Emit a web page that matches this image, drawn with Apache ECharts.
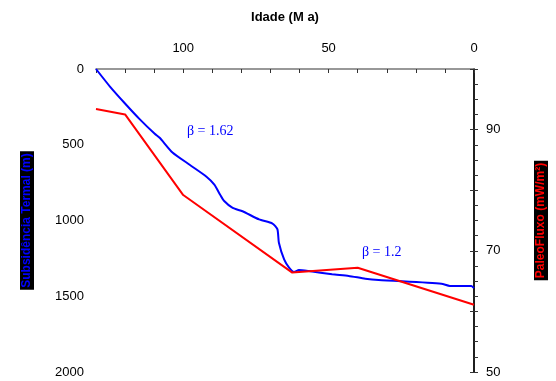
<!DOCTYPE html>
<html lang="pt">
<head>
    <meta charset="UTF-8">
    <title>Subsidência Termal</title>
    <script src="https://cdn.jsdelivr.net/npm/echarts@6/dist/echarts.min.js"></script>
    <style>
        html, body { margin: 0; padding: 0; background: #fff; }
    </style>
</head>
<body>
    <div id="main" style="width:556px;height:381px;"></div>
<script type="text/javascript">
    // subsidência termal (idade em Ma, profundidade em m)
    var subsAge   = [130, 125.2, 120.1, 115, 109.8, 108.1, 103.7, 97.8, 92.1, 89.3, 87.3, 86, 83, 79.6, 73.9, 69.3, 67.6, 67.1, 65.3, 63.6, 61.9, 60.2, 56.8, 48.8, 43.1, 37.4, 32.8, 11.2, 8.3, 0.9, 0];
    var subsDepth = [0, 116, 226, 331, 428, 454, 551, 632, 709, 763, 830, 870, 917, 939, 993, 1020, 1059, 1147, 1257, 1311, 1340, 1327, 1334, 1355, 1366, 1384, 1393, 1417, 1432, 1432, 1447];
    // paleofluxo (idade em Ma, mW/m2)
    var fluxAge = [130, 120, 100, 62.5, 40, 0];
    var fluxVal = [93.4, 92.5, 79.2, 66.4, 67.2, 61.1];
    // rótulos
    var ageLabels  = [0, 50, 100];
    var fluxLabels = [50, 70, 90];

    var subsData = [];
    for (var i = 0; i < subsAge.length; i++) {
        subsData.push([subsAge[i], subsDepth[i]]);
    }
    var fluxData = [];
    for (var j = 0; j < fluxAge.length; j++) {
        fluxData.push([fluxAge[j], fluxVal[j]]);
    }

    var fontFam = '"Liberation Sans", Arial, sans-serif';
    var myChart = echarts.init(document.getElementById('main'));

    var option = {
        animation: false,
        grid: { left: 96, right: 80, top: 69, bottom: 9 },
        xAxis: {
            type: 'value',
            position: 'top',
            inverse: true,
            min: 0,
            max: 130,
            interval: 10,
            name: 'Idade (M a)',
            nameLocation: 'middle',
            nameGap: 45,
            nameTextStyle: { fontFamily: fontFam, fontSize: 13, fontWeight: 'bold', color: '#000' },
            axisLine: { show: true, lineStyle: { color: '#777', width: 1.5 } },
            axisTick: { show: true, inside: true, length: 4, lineStyle: { color: '#333' } },
            axisLabel: {
                margin: 14,
                fontFamily: fontFam, fontSize: 13, color: '#000',
                formatter: function (v) { return ageLabels.indexOf(v) >= 0 ? String(v) : ''; }
            },
            splitLine: { show: false }
        },
        yAxis: [
            {
                type: 'value',
                inverse: true,
                min: 0,
                max: 2000,
                interval: 500,
                name: 'Subsidência Termal (m)',
                nameLocation: 'middle',
                nameRotate: 90,
                nameGap: 62,
                nameTextStyle: {
                    fontFamily: fontFam, fontSize: 12, fontWeight: 'bold', color: '#0000ff',
                    backgroundColor: '#000', padding: [1, 2, 1, 2]
                },
                axisLine: { show: true, lineStyle: { color: '#555', width: 1.5 } },
                axisTick: { show: true, inside: true, length: 4, lineStyle: { color: '#333' } },
                minorTick: { show: true, splitNumber: 5, length: 4, lineStyle: { color: '#333' } },
                axisLabel: {
                    margin: 12, fontFamily: fontFam, fontSize: 13, color: '#000',
                    formatter: function (v) { return String(v); }
                },
                splitLine: { show: false }
            },
            {
                type: 'value',
                position: 'right',
                min: 50,
                max: 100,
                interval: 10,
                name: 'PaleoFluxo (mW/m²)',
                nameLocation: 'middle',
                nameRotate: 90,
                nameGap: 60,
                nameTextStyle: {
                    fontFamily: fontFam, fontSize: 12, fontWeight: 'bold', color: '#ff0000',
                    backgroundColor: '#000', padding: [1, 2, 1, 2]
                },
                axisLine: { show: true, lineStyle: { color: '#000', width: 1.5 } },
                axisTick: { show: true, inside: true, length: 4, lineStyle: { color: '#333' } },
                axisLabel: {
                    margin: 12,
                    fontFamily: fontFam, fontSize: 13, color: '#000',
                    formatter: function (v) { return fluxLabels.indexOf(v) >= 0 ? String(v) : ''; }
                },
                splitLine: { show: false }
            }
        ],
        series: [
            {
                name: 'Subsidência',
                type: 'line',
                yAxisIndex: 0,
                data: subsData,
                showSymbol: false,
                smooth: 0.2,
                lineStyle: { color: '#0000ff', width: 2 }
            },
            {
                name: 'PaleoFluxo',
                type: 'line',
                yAxisIndex: 1,
                data: fluxData,
                showSymbol: false,
                lineStyle: { color: '#ff0000', width: 2 }
            }
        ],
        graphic: [
            {
                type: 'text', left: 187, top: 124,
                style: { text: 'β = 1.62', fill: '#0000ff', font: '14px "Liberation Serif", "Times New Roman", serif' }
            },
            {
                type: 'text', left: 362, top: 245,
                style: { text: 'β = 1.2', fill: '#0000ff', font: '14px "Liberation Serif", "Times New Roman", serif' }
            }
        ]
    };

    myChart.setOption(option);
</script>
</body>
</html>
